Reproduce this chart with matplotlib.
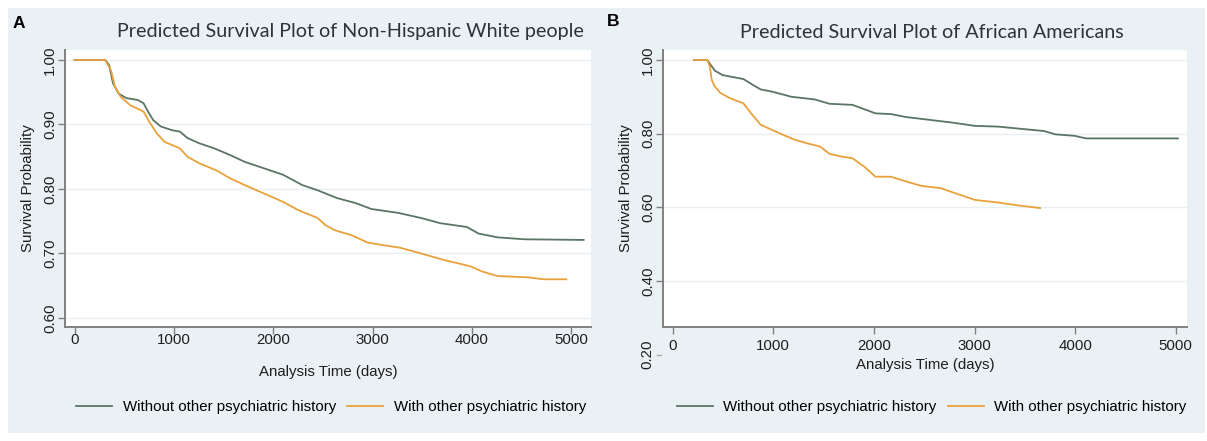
import numpy as np
import matplotlib.pyplot as plt
from matplotlib.patches import Rectangle
from matplotlib.transforms import blended_transform_factory

plt.switch_backend('Agg')

# Panel A: Non-Hispanic White people
a_days_without = [0, 308, 348, 386, 443, 520, 636, 694, 732, 790, 867, 983, 1060, 1137, 1253,
                  1405, 1560, 1714, 1907, 2100, 2293, 2447, 2640, 2833, 2987, 3257, 3489,
                  3681, 3951, 4066, 4259, 4529, 5126]
a_surv_without = [1.0, 1.0, 0.992, 0.964, 0.948, 0.941, 0.938, 0.933, 0.922, 0.907, 0.897, 0.891,
                  0.889, 0.879, 0.871, 0.863, 0.853, 0.842, 0.832, 0.822, 0.806, 0.798, 0.786,
                  0.778, 0.769, 0.763, 0.755, 0.747, 0.741, 0.731, 0.725, 0.722, 0.721]
a_days_with = [0, 308, 366, 405, 463, 559, 694, 752, 829, 906, 1060, 1137, 1253, 1426, 1560,
               1714, 1907, 2100, 2255, 2447, 2525, 2621, 2795, 2949, 3103, 3276, 3489, 3719,
               3989, 4105, 4259, 4567, 4721, 4952]
a_surv_with = [1.0, 1.0, 0.984, 0.959, 0.943, 0.930, 0.920, 0.904, 0.886, 0.873, 0.863, 0.850,
               0.840, 0.829, 0.817, 0.806, 0.793, 0.780, 0.767, 0.755, 0.744, 0.736, 0.728,
               0.717, 0.713, 0.709, 0.700, 0.690, 0.680, 0.672, 0.665, 0.663, 0.660, 0.660]

# Panel B: African Americans
b_days_without = [210, 343, 380, 419, 495, 609, 704, 799, 875, 989, 1180, 1408, 1560, 1788,
                  2016, 2169, 2321, 2625, 2777, 3005, 3234, 3462, 3690, 3804, 3994, 4108, 5022]
b_surv_without = [1.0, 1.0, 0.986, 0.971, 0.959, 0.953, 0.948, 0.932, 0.920, 0.914, 0.900,
                  0.893, 0.881, 0.878, 0.855, 0.853, 0.845, 0.835, 0.830, 0.821, 0.819, 0.813,
                  0.807, 0.798, 0.794, 0.787, 0.787]
b_days_with = [210, 343, 370, 388, 419, 476, 571, 704, 780, 875, 989, 1103, 1218, 1332, 1464,
               1560, 1674, 1788, 1901, 2016, 2169, 2321, 2473, 2663, 2853, 3005, 3234, 3462, 3652]
b_surv_with = [1.0, 1.0, 0.982, 0.946, 0.928, 0.910, 0.896, 0.882, 0.855, 0.824, 0.810, 0.796,
               0.783, 0.774, 0.765, 0.745, 0.738, 0.733, 0.711, 0.683, 0.683, 0.670, 0.658,
               0.652, 0.634, 0.620, 0.613, 0.604, 0.598]

x_ticks = [0, 1000, 2000, 3000, 4000, 5000]
a_y_ticks = [0.60, 0.70, 0.80, 0.90, 1.00]
b_y_ticks = [0.40, 0.60, 0.80, 1.00]
series_labels = ['Without other psychiatric history', 'With other psychiatric history']
titles = ['Predicted Survival Plot of Non-Hispanic White people',
          'Predicted Survival Plot of African Americans']

col_without = '#5b7565'
col_with = '#e9a13b'
bg = '#eaf1f4'
axis_col = '#808080'
text_col = '#1e1e1e'
fs = 10.8

plt.rcParams['font.family'] = ['Liberation Sans', 'DejaVu Sans']

W, H = 1207, 441
fig = plt.figure(figsize=(W / 100, H / 100), dpi=100)
fig.patch.set_facecolor('white')
fig.patches.append(Rectangle((8 / W, 1 - 433 / H), (1205 - 8) / W, (433 - 8) / H,
                             transform=fig.transFigure, facecolor=bg, edgecolor='none', zorder=-10))


def px_axes(left, top, right, bottom):
    return fig.add_axes([left / W, 1 - bottom / H, (right - left) / W, (bottom - top) / H])


def style_axis(ax, yticks, xlim, ylim, xpad, xlabelpad):
    ax.set_facecolor('white')
    ax.set_xlim(*xlim)
    ax.set_ylim(*ylim)
    ax.set_xticks(x_ticks)
    ax.set_yticks(yticks)
    ax.set_yticklabels([f'{v:.2f}' for v in yticks], rotation=90, va='center')
    for s in ['top', 'right']:
        ax.spines[s].set_visible(False)
    for s in ['left', 'bottom']:
        ax.spines[s].set_color(axis_col)
        ax.spines[s].set_linewidth(1.4)
    ax.tick_params(axis='both', colors=axis_col, labelcolor=text_col, labelsize=fs,
                   length=5, width=1.0)
    ax.tick_params(axis='x', pad=xpad)
    ax.tick_params(axis='y', pad=0.5)
    ax.grid(axis='y', color='#eaeff3', linewidth=1.0)
    ax.set_axisbelow(True)
    ax.set_xlabel('Analysis Time (days)', fontsize=fs, color=text_col, labelpad=xlabelpad)
    ax.set_ylabel('Survival Probability', fontsize=fs, color=text_col, labelpad=6)


leg_kw = dict(loc='center', ncol=2, frameon=False, fontsize=fs, handlelength=2.4,
              columnspacing=0.75, handletextpad=0.7)

# Panel A
axA = px_axes(65, 50, 591, 327)
axA.plot(a_days_without, a_surv_without, color=col_without, lw=1.3, label=series_labels[0])
axA.plot(a_days_with, a_surv_with, color=col_with, lw=1.3, label=series_labels[1])
style_axis(axA, a_y_ticks, (-97, 5200), (0.586, 1.0155), -1, 13.5)
axA.legend(bbox_to_anchor=(0.506, -0.289), **leg_kw)

# Panel B
axB = px_axes(663, 50, 1187, 327)
axB.plot(b_days_without, b_surv_without, color=col_without, lw=1.3, label=series_labels[0])
axB.plot(b_days_with, b_surv_with, color=col_with, lw=1.3, label=series_labels[1])
style_axis(axB, b_y_ticks, (-96, 5112), (0.275, 1.027), 4, 3)
axB.legend(bbox_to_anchor=(0.513, -0.289), **leg_kw)

# stray 0.20 label below the axis in panel B
tr = blended_transform_factory(axB.transAxes, axB.transData)
axB.plot([-0.012, -0.004], [0.20, 0.20], color='#aaaaaa', lw=1, transform=tr, clip_on=False)
axB.text(-0.03, 0.20, '0.20', rotation=90, ha='center', va='center', fontsize=fs,
         color=text_col, transform=tr, clip_on=False)

# titles and panel letters
fig.text(350 / W, 1 - 32 / H, titles[0], ha='center', va='center', fontsize=14.2,
         family=['Lato', 'DejaVu Sans'], color='#2e3338')
fig.text(932 / W, 1 - 32 / H, titles[1], ha='center', va='center', fontsize=14.2,
         family=['Lato', 'DejaVu Sans'], color='#2e3338')
fig.text(19 / W, 1 - 24 / H, 'A', ha='center', va='center', fontsize=12.5, fontweight='bold')
fig.text(613 / W, 1 - 22 / H, 'B', ha='center', va='center', fontsize=12.5, fontweight='bold')

fig.savefig('out.png', dpi=100)
